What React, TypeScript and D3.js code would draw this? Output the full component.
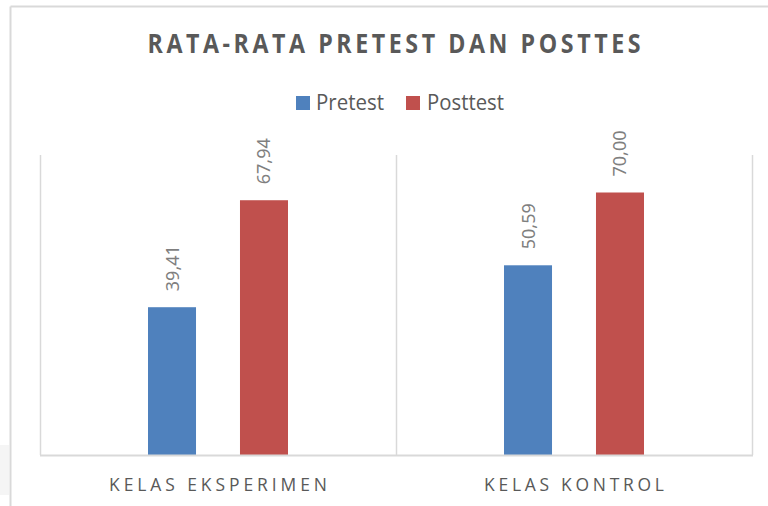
import React, { useRef, useEffect } from 'react';
import * as d3 from 'd3';

const categories = ['KELAS EKSPERIMEN', 'KELAS KONTROL'];
const series = ['Pretest', 'Posttest'];
const pretest = [39.41, 50.59];
const posttest = [67.94, 70.0];
const colors = ['#4F81BD', '#C0504D'];

const W = 768;
const H = 506;

const App: React.FC = () => {
  const svgRef = useRef<SVGSVGElement>(null);

  useEffect(() => {
    if (!svgRef.current) return;
    const svg = d3.select(svgRef.current);
    svg.selectAll('*').remove();

    const left = 40, right = 752, top = 155, bottom = 455;

    const x0 = d3.scaleBand<string>().domain(categories).range([left, right]).padding(0);
    const x1 = d3.scaleBand<string>().domain(series).range([-70, 70]).paddingInner(0.478).paddingOuter(0);
    const y = d3.scaleLinear().domain([0, 80]).range([bottom, top]);

    const rows = categories.map((c, i) => ({ cat: c, values: [pretest[i], posttest[i]] }));

    // outer frame (only top and left edges show)
    svg.append('line').attr('x1', 10.5).attr('x2', W).attr('y1', 6.5).attr('y2', 6.5)
      .attr('stroke', '#d9d9d9').attr('stroke-width', 2);
    svg.append('line').attr('x1', 10.5).attr('x2', 10.5).attr('y1', 6.5).attr('y2', H)
      .attr('stroke', '#d9d9d9').attr('stroke-width', 2);

    // faint smudge at bottom left
    svg.append('rect').attr('x', 0).attr('y', 445).attr('width', 9).attr('height', 50)
      .attr('fill', '#ececec').attr('opacity', 0.5);

    // title: narrow glyphs, wide letter spacing
    const tScale = 0.86;
    svg.append('text')
      .attr('transform', `translate(394,53) scale(${tScale},1)`)
      .attr('text-anchor', 'middle')
      .attr('textLength', 493 / tScale).attr('lengthAdjust', 'spacing')
      .style('font-family', '"Open Sans", sans-serif')
      .style('font-weight', 'bold')
      .style('font-size', '27px')
      .style('fill', '#595959')
      .text('RATA-RATA PRETEST DAN POSTTES');

    // legend
    const legendPos = [{ sx: 296, tx: 316, tw: 68 }, { sx: 406, tx: 427, tw: 77 }];
    series.forEach((s, i) => {
      svg.append('rect').attr('x', legendPos[i].sx).attr('y', 96).attr('width', 14).attr('height', 14)
        .attr('fill', colors[i]);
      svg.append('text').attr('x', legendPos[i].tx).attr('y', 110)
        .attr('textLength', legendPos[i].tw).attr('lengthAdjust', 'spacingAndGlyphs')
        .style('font-family', '"Open Sans", sans-serif')
        .style('font-size', '21px')
        .style('fill', '#595959')
        .text(s);
    });

    // vertical gridlines at category boundaries
    const bounds = [...categories.map(c => x0(c)!), right];
    svg.append('g').selectAll('line').data(bounds).join('line')
      .attr('x1', d => d + 0.5).attr('x2', d => d + 0.5)
      .attr('y1', top).attr('y2', bottom)
      .attr('stroke', '#d9d9d9').attr('stroke-width', 1.5);

    // bars
    const groups = svg.append('g').selectAll('g').data(rows).join('g')
      .attr('transform', d => `translate(${x0(d.cat)! + x0.bandwidth() / 2},0)`);

    groups.selectAll('rect').data(d => d.values).join('rect')
      .attr('x', (_, i) => x1(series[i])!)
      .attr('y', d => y(d))
      .attr('width', x1.bandwidth())
      .attr('height', d => bottom - y(d))
      .attr('fill', (_, i) => colors[i]);

    // value labels, rotated
    groups.selectAll('text').data(d => d.values).join('text')
      .attr('transform', (d, i) => `translate(${x1(series[i])! + x1.bandwidth() / 2 + 6.5},${y(d) - 16}) rotate(-90)`)
      .attr('text-anchor', 'start')
      .style('font-family', '"Noto Sans", sans-serif')
      .style('font-size', '18px')
      .style('fill', '#7f7f7f')
      .text(d => d3.format('.2f')(d).replace('.', ','));

    // baseline
    svg.append('line').attr('x1', left).attr('x2', right + 1).attr('y1', bottom + 0.5).attr('y2', bottom + 0.5)
      .attr('stroke', '#d9d9d9').attr('stroke-width', 2);

    // category labels, letter-spaced
    const cScale = 0.92;
    const catWidths = [218, 180];
    svg.append('g').selectAll('text').data(categories).join('text')
      .attr('transform', d => `translate(${x0(d)! + x0.bandwidth() / 2},491) scale(${cScale},1)`)
      .attr('text-anchor', 'middle')
      .attr('textLength', (_, i) => catWidths[i] / cScale).attr('lengthAdjust', 'spacing')
      .style('font-family', '"Open Sans", sans-serif')
      .style('font-size', '19px')
      .style('fill', '#595959')
      .text(d => d);
  }, []);

  return (
    <svg ref={svgRef} width={W} height={H}
      style={{ position: 'absolute', left: 0, top: 0, background: '#fff' }} />
  );
};

export default App;
